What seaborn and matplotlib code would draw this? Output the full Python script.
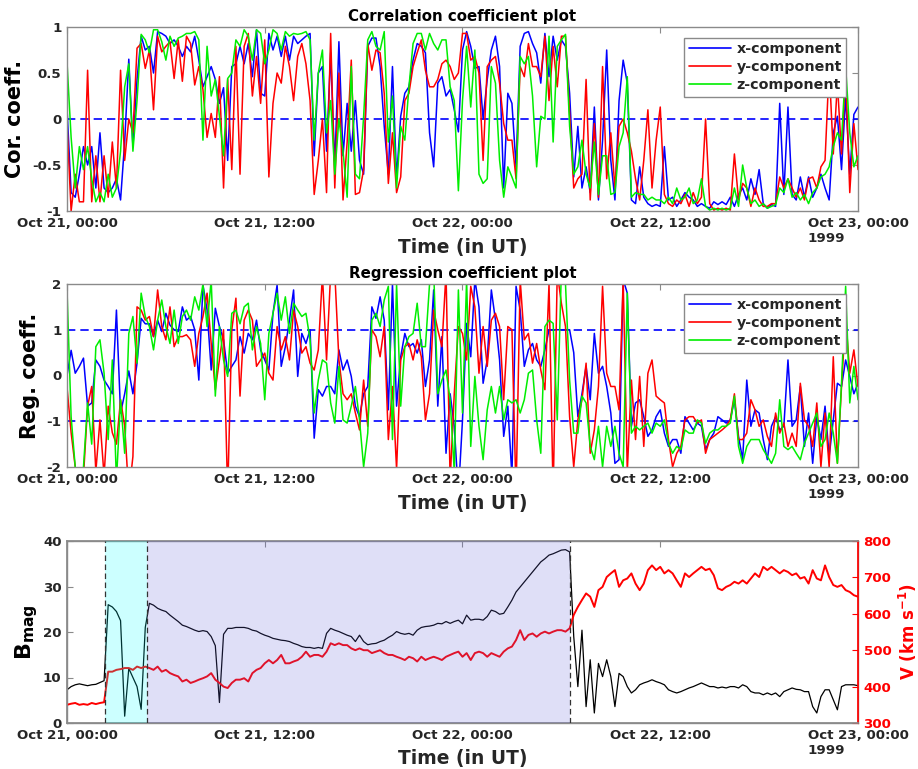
import numpy as np
import pandas as pd
import matplotlib
matplotlib.use("Agg")
import matplotlib.pyplot as plt
import seaborn as sns

# ---------------- data (15-min samples, hours since Oct 21 00:00 UT) ----------------
tick_hours = [0, 12, 24, 36, 48]
tick_labels = ["Oct 21, 00:00", "Oct 21, 12:00", "Oct 22, 00:00", "Oct 22, 12:00", "Oct 23, 00:00\n1999"]
components = ["x-component", "y-component", "z-component"]

cor_x = [0.12, -0.8, -0.85, -0.6, -0.3, -0.5, -0.3, -0.75, -0.15, -0.75, -0.8, -0.75,
         -0.65, -0.88, -0.25, 0.65, -0.3, 0.43, 0.9, 0.75, 0.79, 0.5, 0.95, 0.93,
         0.9, 0.82, 0.86, 0.79, 0.68, 0.79, 0.73, 0.9, 0.64, 0.35, 0.46, 0.57,
         0.43, 0.17, 0.34, -0.45, 0.57, 0.6, 0.79, 0.6, 0.82, 0.46, 0.97, 0.28,
         0.25, 0.93, 0.75, 0.9, 0.68, 0.9, 0.64, 0.9, 0.82, 0.86, 0.9, 0.93,
         -0.4, 0.5, 0.57, -0.35, 0.72, -0.52, 0.84, -0.4, 0.17, -0.35, 0.2, -0.45,
         -0.6, 0.79, 0.88, 0.88, 0.57, -0.08, -0.6, 0.57, -0.65, 0.03, 0.28, 0.35,
         0.64, 0.82, 0.79, 0.72, -0.15, -0.52, 0.39, 0.46, 0.25, 0.32, 0.1, -0.14,
         0.75, 0.95, 0.79, 0.55, 0.57, 0.0, 0.43, 0.75, 0.9, 0.57, -0.75, 0.28,
         0.17, -0.52, 0.79, 0.93, 0.95, 0.82, 0.72, 0.39, 0.93, 0.46, 0.9, 0.64,
         0.86, 0.79, 0.28, -0.63, -0.08, -0.75, -0.52, -0.8, 0.13, -0.88, -0.23, 0.75,
         -0.45, -0.88, 0.2, 0.64, 0.39, -0.88, -0.92, -0.52, -0.85, -0.92, -0.95, -0.93,
         -0.95, -0.3, -0.88, -0.85, -0.95, -0.88, -0.8, -0.85, -0.88, -0.95, -0.92, -0.95,
         -0.97, -0.9, -0.93, -0.9, -0.93, -0.85, -0.95, -0.82, -0.75, -0.88, -0.65, -0.82,
         -0.55, -0.92, -0.97, -0.93, -0.95, 0.17, -0.82, 0.13, -0.82, -0.88, -0.63, -0.85,
         -0.63, -0.85, -0.75, -0.6, -0.75, -0.88, -0.15, 0.03, -0.55, 0.25, -0.6, 0.05,
         0.13]
cor_y = [-0.05, -1.0, -0.6, -0.9, -0.9, 0.53, -0.9, -0.4, -0.9, -0.4, -0.85, -0.25,
         -0.75, 0.53, -0.45, 0.0, -0.15, 0.77, 0.82, 0.55, 0.75, 0.1, 0.9, 0.73,
         0.79, 0.84, 0.44, 0.86, 0.41, 0.9, 0.82, 0.37, 0.57, 0.32, -0.2, 0.06,
         -0.2, 0.46, -0.75, 0.43, -0.55, 0.79, -0.6, 0.79, 0.93, 0.25, 0.68, 0.17,
         0.86, -0.63, 0.17, 0.5, 0.39, 0.79, 0.57, 0.2, 0.68, 0.82, 0.6, 0.2,
         -0.82, -0.45, 0.0, -0.8, 0.93, -0.75, 0.5, -0.88, -0.25, 0.64, -0.82, -0.8,
         -0.55, 0.82, 0.53, 0.75, 0.72, 0.28, -0.7, -0.15, -0.8, -0.63, 0.2, 0.28,
         0.57, 0.72, 0.86, 0.53, 0.35, 0.35, 0.43, 0.6, 0.64, 0.57, 0.43, 0.5,
         0.93, 0.93, 0.64, 0.68, 0.5, -0.45, 0.57, 0.64, 0.68, 0.39, -0.05, -0.23,
         -0.23, -0.65, 0.57, 0.46, 0.82, 0.57, 0.57, 0.46, 0.9, 0.2, 0.79, 0.35,
         0.9, 0.9, 0.06, -0.75, -0.65, -0.6, 0.43, -0.88, -0.05, -0.85, 0.57, -0.65,
         -0.15, -0.75, -0.08, 0.0, -0.15, -0.35, -0.65, -0.88, -0.45, 0.1, -0.75, -0.23,
         0.13, -0.82, -0.92, -0.95, -0.88, -0.92, -0.82, -0.95, -0.8, -0.92, -0.85, 0.0,
         -0.92, -0.99, -0.97, -0.99, -0.97, -0.99, -0.38, -0.88, -0.7, -0.75, -0.95, -0.75,
         -0.88, -0.95, -0.95, -0.92, -0.92, -0.63, -0.75, -0.65, -0.75, -0.85, -0.75, -0.88,
         -0.65, -0.63, -0.75, -0.52, -0.45, 0.57, -0.38, 0.39, -0.38, 0.5, -0.8, -0.05,
         -0.55]
cor_z = [0.62, -0.2, -0.75, -0.3, -0.55, -0.3, -0.65, -0.9, -0.8, -0.9, -0.6, -0.85,
         -0.75, -0.35, 0.35, 0.6, -0.35, 0.2, 0.92, 0.86, 0.72, 0.97, 0.97, 0.84,
         0.64, 0.9, 0.79, 0.88, 0.9, 0.93, 0.93, 0.95, 0.86, -0.23, 0.79, 0.25,
         0.43, 0.03, -0.4, 0.44, 0.5, 0.86, 0.79, 0.97, 0.9, 0.64, 0.97, 0.93,
         0.6, 0.75, 0.97, 0.93, 0.75, 0.95, 0.9, 0.93, 0.92, 0.93, 0.95, 0.86,
         -0.23, 0.5, 0.75, -0.15, 0.2, -0.6, 0.0, -0.35, -0.85, 0.57, -0.6, -0.65,
         0.03, 0.86, 0.95, 0.79, 0.75, 0.95, -0.25, 0.25, -0.75, -0.08, -0.23, 0.35,
         0.82, 0.93, 0.93, 0.75, 0.93, 0.82, 0.75, 0.86, 0.86, 0.35, 0.2, -0.78,
         0.2, 0.79, 0.13, 0.75, -0.6, -0.7, -0.65, 0.57, 0.39, -0.45, -0.85, -0.52,
         -0.63, -0.75, 0.68, 0.6, 0.68, 0.25, -0.52, 0.03, 0.0, 0.9, -0.25, 0.79,
         0.86, 0.92, -0.08, -0.6, -0.52, -0.23, -0.6, -0.75, -0.25, -0.82, -0.4, -0.4,
         -0.82, -0.8, -0.3, -0.15, 0.46, -0.85, -0.8, -0.82, -0.82, -0.88, -0.85, -0.88,
         -0.88, -0.92, -0.85, -0.92, -0.75, -0.88, -0.85, -0.75, -0.92, -0.88, -0.65, -0.95,
         -0.99, -0.97, -0.99, -0.97, -0.99, -0.97, -0.75, -0.95, -0.5, -0.75, -0.92, -0.88,
         -0.95, -0.92, -0.97, -0.95, -0.93, -0.75, -0.8, -0.65, -0.85, -0.8, -0.88, -0.82,
         -0.92, -0.8, -0.75, -0.63, -0.6, -0.52, -0.3, -0.15, -0.23, 0.57, -0.15, -0.52,
         -0.4]

reg_x = [0.0, 0.55, 0.05, 0.2, 0.38, -0.67, -0.6, 0.34, 0.2, -0.1, -0.24, -0.4,
         1.43, -0.82, -0.4, 0.1, -0.4, 0.27, 1.25, 1.13, 1.13, 0.85, 1.21, 0.96,
         1.36, 1.1, 1.0, 0.96, 1.5, 1.21, 1.29, 1.0, -0.1, 1.98, 1.43, 0.12,
         1.47, 1.07, 0.78, 0.05, 0.2, 0.34, 0.85, 0.49, 0.92, 0.78, 1.21, 0.56,
         0.34, 0.12, 1.36, 1.98, 0.2, 0.63, 1.21, 1.87, -0.02, 0.92, 0.7, 1.0,
         -1.37, -0.31, -0.45, -0.24, -0.24, -0.4, 0.56, 0.12, 0.34, -0.02, -0.67, -0.9,
         -0.4, -0.24, 1.5, 1.25, 1.72, 1.21, -0.75, 2.0, -0.67, 0.41, 0.92, 0.63,
         0.7, 0.49, 0.78, -0.24, 0.34, 1.87, -0.67, 0.85, -1.7, -0.4, -1.11, -2.6,
         -0.97, 1.14, 0.41, 2.1, 1.5, -0.17, 0.34, 1.87, 1.21, 0.34, -1.33, -0.67,
         -2.2, 1.95, 1.43, 0.2, 0.56, 0.7, 0.34, 0.2, 0.56, 1.0, 1.0, 1.0,
         1.0, 1.0, 1.0, 0.5, -0.9, -0.4, 0.2, -0.53, 0.92, 0.05, 0.2, -0.24,
         -0.82, -1.92, -1.84, 2.1, 1.8, -1.11, -0.6, -0.53, -0.9, -1.33, -1.19, -0.9,
         -0.75, -1.26, -1.55, -1.4, -1.4, -1.7, -0.9, -1.04, -1.19, -1.04, -1.11, -1.62,
         -1.4, -1.26, -0.9, -0.97, -1.04, -0.97, -0.53, -1.33, -1.84, -0.1, -1.11, -0.75,
         -0.82, -1.4, -1.84, -1.11, -0.9, -1.19, -1.11, 0.34, -1.11, -0.97, -0.24, -1.55,
         -0.82, -1.92, -0.9, -1.4, -0.67, -1.77, -0.97, -0.17, -0.24, 0.34, -0.02, -0.4,
         -0.17]
reg_y = [-0.25, -1.25, -2.0, -2.6, -2.2, -0.67, -0.24, -2.1, -0.97, -2.2, -0.67, -1.25,
         -1.5, -0.53, -1.1, -2.6, -1.77, 1.5, 1.43, 1.21, 1.29, 0.85, 1.87, 1.07,
         0.78, 1.5, 0.63, 0.85, 0.85, 0.89, 0.78, 0.2, 0.92, 1.29, 1.8, 0.7,
         -0.31, 0.34, 1.0, -2.6, 1.0, 1.69, -0.45, 1.21, 1.43, 1.21, 0.2, 0.34,
         0.49, 0.05, -0.1, 1.07, 0.56, 0.85, 0.34, 1.43, 1.07, 0.49, 0.63, 0.27,
         0.12, 0.56, 2.2, 0.34, 2.25, 2.25, 0.34, -0.4, -0.53, -0.4, -0.82, -1.19,
         -0.1, -1.11, 1.0, 0.85, 0.41, 1.07, -1.4, -0.24, -2.05, 0.34, 0.63, 0.7,
         0.34, 0.78, 0.41, -0.97, -0.4, 1.43, 1.0, 0.63, 2.25, -2.3, -0.4, 1.07,
         0.92, 0.34, 1.95, 1.5, 0.05, 1.07, 0.2, 1.21, 1.36, 1.07, -0.53, 1.07,
         1.0, -2.6, 2.1, 0.78, 0.92, 0.27, 0.7, 0.12, -0.31, 2.0, -2.6, 2.25,
         1.58, 1.07, -0.9, -2.0, -0.97, -0.53, 0.27, -1.7, -1.19, -0.24, 1.95, 0.05,
         -0.24, -0.24, -0.75, 2.1, -2.1, -0.1, -1.4, -0.02, -1.55, 0.05, 0.34, -0.45,
         -0.53, -0.6, -1.4, -2.0, -1.7, -1.55, -0.97, -0.9, -0.9, -1.04, -0.97, -1.7,
         -1.4, -1.33, -1.26, -1.19, -1.11, -0.97, -0.4, -1.4, -1.4, -1.26, -0.53, -0.75,
         -1.11, -0.97, -1.33, -1.55, -0.82, -1.26, -1.04, -1.55, -1.26, -1.55, -0.17, -0.97,
         -1.11, -1.55, -0.6, -2.0, -0.82, -2.0, 0.41, -1.92, -0.24, 1.29, 0.05, 0.56,
         -0.24]
reg_z = [1.87, -0.9, -2.0, -2.2, -2.0, -0.6, -1.5, 0.63, 0.78, 0.05, -1.4, 0.34,
         -2.3, -0.53, -1.7, 0.92, 1.29, 0.27, 1.8, 1.29, 1.07, 0.56, 1.21, 1.65,
         1.07, 0.7, 1.43, 0.7, 1.29, 1.43, 1.21, 1.72, 1.43, 2.0, 1.07, 2.1,
         -0.45, 1.07, 0.34, -0.02, 1.36, 1.43, 1.13, 1.5, 1.58, 0.56, 1.07, 0.7,
         -0.53, 0.92, 1.36, 1.8, 1.21, 1.72, 0.92, 1.58, 1.43, 1.29, 1.36, 0.78,
         -0.82, -0.1, 0.34, 0.27, -0.6, -1.04, 0.2, -0.97, -1.04, -0.67, -0.24, -0.97,
         -2.0, -1.26, 1.21, 1.36, 1.07, 1.65, 1.95, -1.4, 2.0, -0.67, 0.63, 0.85,
         0.92, 1.58, 0.63, 0.63, 2.0, 2.3, -0.4, -0.1, 0.12, -0.53, -2.1, 1.87,
         -0.82, 2.1, -1.55, -0.02, -1.11, -1.84, -0.75, -0.24, -0.82, -0.24, -0.97, -0.53,
         -0.6, -0.53, -0.82, -0.53, 0.05, 0.12, -0.97, -1.7, 1.07, 1.21, 1.14, -0.97,
         2.3, 2.0, -0.1, -1.26, -1.26, -0.45, -0.6, -1.55, -1.84, -1.11, -2.0, -1.11,
         -1.55, -1.11, -1.7, -2.0, 1.8, -1.26, -1.11, -1.19, -1.11, -1.04, -1.26, -1.04,
         -1.11, -0.97, -1.48, -1.7, -1.55, -1.62, -1.19, -1.26, -1.26, -0.97, -1.04, -1.48,
         -1.26, -1.19, -1.19, -1.11, -1.11, -1.04, -0.45, -1.55, -1.92, -1.55, -1.4, -1.4,
         -1.4, -1.62, -1.77, -1.92, -1.7, -0.53, -1.55, -1.62, -1.55, -1.7, -1.84, -1.48,
         -1.26, -1.04, -0.82, -1.55, -1.4, -0.82, -1.26, -1.92, -0.17, 1.95, -0.6, 0.2,
         -0.53]

b_mag = [7.3, 8.0, 8.4, 8.6, 8.4, 8.2, 8.4, 8.5, 8.9, 9.3, 26.0, 25.5,
         24.5, 22.5, 1.5, 12.0, 10.0, 8.0, 3.0, 21.0, 26.3, 25.9, 25.2, 24.8,
         24.5, 23.7, 23.0, 22.3, 21.5, 21.2, 20.8, 20.4, 20.1, 20.3, 20.1, 19.0,
         17.0, 4.5, 19.5, 20.8, 20.8, 21.0, 21.0, 21.0, 20.8, 20.4, 20.2, 19.7,
         19.3, 19.0, 18.6, 18.4, 18.2, 18.1, 17.9, 17.5, 17.2, 16.8, 16.6, 16.6,
         16.4, 16.6, 16.4, 19.7, 20.8, 20.4, 20.1, 19.7, 19.3, 19.0, 17.9, 19.3,
         17.9, 17.2, 17.4, 17.5, 17.9, 18.2, 18.8, 19.3, 20.1, 19.7, 19.5, 19.7,
         19.3, 20.4, 21.0, 21.2, 21.3, 21.5, 21.9, 21.8, 22.3, 21.9, 22.3, 22.6,
         21.8, 23.7, 22.6, 22.8, 22.8, 22.6, 23.4, 24.8, 24.5, 23.9, 24.1, 25.5,
         27.0, 28.8, 29.9, 31.0, 32.1, 33.2, 34.3, 35.4, 36.1, 36.9, 37.2, 37.6,
         38.0, 38.1, 37.6, 19.0, 8.0, 20.4, 3.6, 13.9, 2.2, 13.1, 10.2, 13.9,
         10.2, 3.6, 10.9, 10.2, 8.0, 6.6, 7.3, 8.4, 8.8, 9.1, 9.5, 9.1,
         8.8, 8.4, 7.3, 6.9, 6.6, 6.9, 7.3, 7.7, 8.0, 8.4, 8.8, 8.4,
         8.0, 8.0, 7.7, 7.9, 7.7, 8.0, 8.0, 7.7, 8.4, 8.0, 6.9, 6.6,
         6.6, 6.2, 6.6, 6.2, 6.6, 5.8, 6.9, 7.3, 7.7, 7.4, 7.3, 6.9,
         6.9, 3.6, 2.2, 5.8, 7.3, 7.3, 5.1, 2.9, 8.0, 8.4, 8.4, 8.4,
         8.2]
v_sw = [350, 353, 355, 350, 352, 350, 355, 352, 355, 357, 441, 441,
        446, 448, 451, 451, 446, 455, 451, 455, 451, 446, 455, 441,
        446, 437, 432, 428, 414, 419, 410, 414, 419, 423, 428, 437,
        419, 410, 400, 396, 410, 419, 419, 423, 414, 437, 446, 451,
        464, 473, 464, 473, 487, 464, 464, 469, 473, 482, 496, 482,
        487, 487, 482, 496, 519, 514, 519, 514, 514, 505, 500, 505,
        500, 500, 492, 496, 500, 492, 487, 487, 482, 478, 473, 482,
        478, 469, 482, 473, 478, 482, 478, 473, 482, 487, 492, 496,
        482, 492, 473, 492, 496, 492, 482, 492, 487, 482, 496, 505,
        510, 528, 555, 528, 542, 546, 537, 546, 551, 546, 551, 555,
        555, 551, 560, 597, 619, 638, 656, 647, 619, 665, 674, 701,
        711, 720, 674, 692, 697, 711, 683, 665, 683, 720, 733, 720,
        729, 711, 720, 711, 692, 674, 711, 701, 711, 720, 729, 720,
        724, 706, 670, 665, 674, 679, 688, 683, 692, 683, 697, 711,
        701, 729, 720, 729, 720, 711, 720, 715, 706, 711, 697, 701,
        683, 720, 697, 692, 733, 701, 679, 674, 679, 665, 660, 651,
        647]

# interval boundaries (hours): sheath start, cloud start, cloud end
sheath_start, cloud_start, cloud_end = 2.33, 4.87, 30.55

hours = np.arange(len(cor_x)) * 0.25

# ---------------- style ----------------
sns.set_theme(style="white")
plt.rcParams["font.family"] = ["DejaVu Sans"]
plt.rcParams["font.weight"] = "bold"
plt.rcParams["axes.labelweight"] = "bold"
plt.rcParams["axes.titleweight"] = "bold"
plt.rcParams["lines.scale_dashes"] = False

FRAME = "#8a8a8a"
TXT = "#262626"
TICK_FS = 9.6
palette = ["#0000ff", "#ff0000", "#00ee00"]

fig = plt.figure(figsize=(9.18, 7.69), dpi=100)
W, H = 918, 769


def add_ax(left, top, right, bottom):
    return fig.add_axes([left / W, 1 - bottom / H, (right - left) / W, (bottom - top) / H])


ax1 = add_ax(67, 27, 858, 211)
ax2 = add_ax(67, 284, 858, 467)
ax3 = add_ax(67, 541, 858, 723)


def style_axis(ax, right=True):
    for s in ax.spines.values():
        s.set_color(FRAME)
        s.set_linewidth(1.0)
    ax.tick_params(axis="both", direction="in", length=4.5, width=0.8, color=FRAME,
                   labelsize=TICK_FS, labelcolor=TXT, top=True, right=right, pad=4)
    ax.set_xlim(0, 48)
    ax.set_xticks(tick_hours)
    labs = ax.set_xticklabels(tick_labels, fontweight="bold")
    labs[-1].set_multialignment("left")
    for l in ax.get_yticklabels():
        l.set_fontweight("bold")
    ax.set_xlabel("Time (in UT)", fontsize=13.4, fontweight="bold", color=TXT)
    ax.xaxis.set_label_coords(0.5, -0.145)


def coeff_panel(ax, series, title, ylabel, ylim, yticks, hlines, leg_y):
    df = pd.DataFrame({
        "t": np.tile(hours, 3),
        "val": np.concatenate(series),
        "comp": np.repeat(components, len(hours)),
    })
    for y in hlines:
        ax.axhline(y, color="#0000ff", lw=1.2, ls=(0, (6, 3.6)), zorder=1)
    sns.lineplot(data=df, x="t", y="val", hue="comp", palette=palette, ax=ax,
                 lw=1.1, estimator=None, sort=False, zorder=2)
    ax.set_ylim(*ylim)
    ax.set_yticks(yticks)
    ax.set_yticklabels([f"{v:g}" for v in yticks], fontweight="bold")
    style_axis(ax)
    ax.set_title(title, fontsize=10.8, fontweight="bold", color="black", pad=4)
    ax.set_ylabel(ylabel, fontsize=15, fontweight="bold", color="black", labelpad=5)
    leg = ax.legend(loc="upper right", bbox_to_anchor=(0.985, leg_y), borderaxespad=0,
                    frameon=True, fancybox=False, framealpha=1, edgecolor=FRAME,
                    prop={"weight": "bold", "size": 10.3}, handlelength=3.0,
                    handletextpad=0.35, labelspacing=0.28, borderpad=0.3)
    leg.get_frame().set_linewidth(1.0)
    for h in leg.get_lines():
        h.set_linewidth(1.2)


coeff_panel(ax1, [cor_x, cor_y, cor_z], "Correlation coefficient plot", "Cor. coeff.",
            (-1, 1), [-1, -0.5, 0, 0.5, 1], [0], 0.94)
coeff_panel(ax2, [reg_x, reg_y, reg_z], "Regression coefficient plot", "Reg. coeff.",
            (-2, 2), [-2, -1, 0, 1, 2], [-1, 1], 0.945)

# ---------------- bottom panel ----------------
dfb = pd.DataFrame({"t": hours, "B": b_mag, "V": v_sw})
sns.lineplot(data=dfb, x="t", y="B", ax=ax3, color="black", lw=0.9, estimator=None)
ax3.set_ylim(0, 40)
ax3.set_yticks([0, 10, 20, 30, 40])
style_axis(ax3, right=False)
ax3.set_ylabel(r"$\mathbf{B_{mag}}$", fontsize=16, color="black", labelpad=2)

axv = ax3.twinx()
sns.lineplot(data=dfb, x="t", y="V", ax=axv, color="#ff0000", lw=1.4, estimator=None, zorder=2)
axv.set_ylim(300, 800)
axv.set_yticks([300, 400, 500, 600, 700, 800])
axv.set_yticklabels(["300", "400", "500", "600", "700", "800"], fontweight="bold")
axv.tick_params(axis="y", direction="in", length=4.5, width=0.8, color="#ff0000",
                labelsize=TICK_FS, labelcolor="#ff0000", pad=4)
for s in axv.spines.values():
    s.set_color(FRAME)
axv.spines["right"].set_color("#ff0000")
axv.set_ylabel(r"V (km s$^{\mathbf{-1}}$)", fontsize=12, fontweight="bold", color="#ff0000", labelpad=4)
axv.set_xlim(0, 48)
axv.axvspan(sheath_start, cloud_start, color=(0.0, 1.0, 1.0), alpha=0.2, lw=0, zorder=5)
axv.axvspan(cloud_start, cloud_end, color=(0.39, 0.39, 0.86), alpha=0.2, lw=0, zorder=5)
for xv in (sheath_start, cloud_start, cloud_end):
    axv.axvline(xv, color="#333333", lw=0.9, ls=(0, (4, 2.5)), zorder=6)

fig.savefig("out.png", dpi=100)
